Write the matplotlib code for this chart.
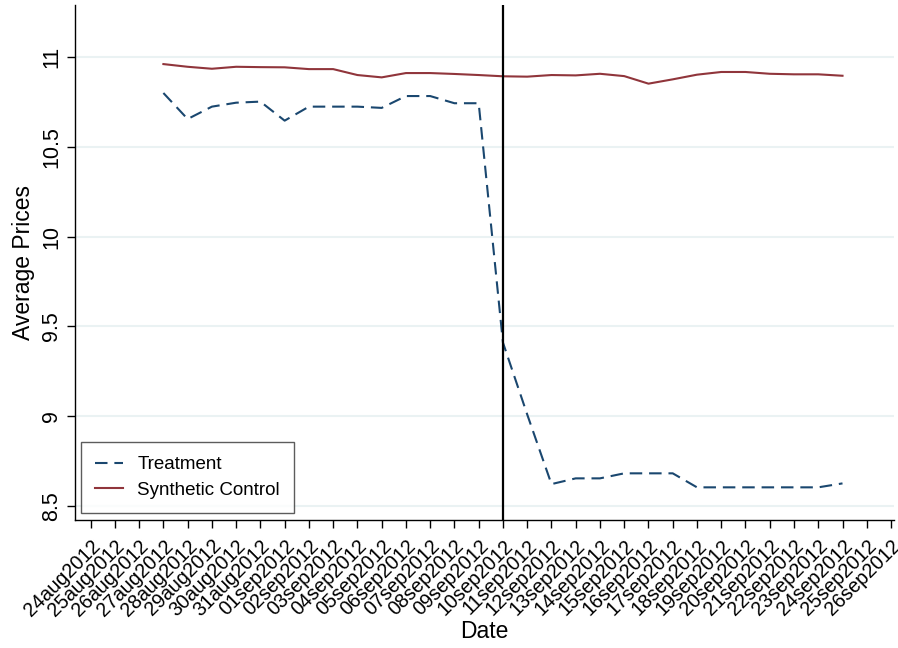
import numpy as np
import pandas as pd
import matplotlib
matplotlib.use("Agg")
import matplotlib.pyplot as plt

plt.rcParams['font.family'] = ['Liberation Sans', 'DejaVu Sans']

# tick dates on the x axis
tick_dates = pd.date_range("2012-08-24", "2012-09-26", freq="D")
# observed days (27aug - 24sep)
obs_dates = pd.date_range("2012-08-27", "2012-09-24", freq="D")

treatment = [10.80, 10.655, 10.724, 10.746, 10.752, 10.646, 10.724, 10.724, 10.724,
             10.717, 10.783, 10.783, 10.743, 10.743, 9.41, 9.01, 8.622, 8.654,
             8.654, 8.682, 8.682, 8.682, 8.604, 8.604, 8.604, 8.604, 8.604, 8.604, 8.626]
synthetic = [10.961, 10.946, 10.935, 10.946, 10.944, 10.943, 10.933, 10.933, 10.90,
             10.887, 10.911, 10.911, 10.906, 10.90, 10.893, 10.891, 10.90, 10.898,
             10.907, 10.894, 10.852, 10.876, 10.902, 10.917, 10.917, 10.907, 10.904,
             10.904, 10.896]
event_date = pd.Timestamp("2012-09-10")
y_ticks = [8.5, 9, 9.5, 10, 10.5, 11]

navy = "#1a476f"
maroon = "#90353b"

fig = plt.figure(figsize=(8.98, 6.48), dpi=100)
ax = fig.add_axes([0.0835, 0.1975, 0.9125, 0.7945])

ax.plot(obs_dates, treatment, color=navy, lw=1.5, ls=(0, (6, 3.3)), label="Treatment")
ax.plot(obs_dates, synthetic, color=maroon, lw=1.5, label="Synthetic Control")
ax.axvline(event_date, color="black", lw=1.6)

ax.set_xlim(tick_dates[0] - pd.Timedelta(days=0.645), tick_dates[-1] + pd.Timedelta(days=0.14))
ax.set_ylim(8.422, 11.289)

ax.set_xticks(tick_dates)
ax.set_xticklabels([d.strftime("%d%b%Y").lower() for d in tick_dates],
                   rotation=45, ha="right", va="top", rotation_mode="anchor", fontsize=14.2)
ax.set_yticks(y_ticks)
ax.set_yticklabels([f"{v:g}" for v in y_ticks], rotation=90, va="center", fontsize=15.5)
ax.tick_params(direction="out", length=5.5, width=1, colors="black")
ax.tick_params(axis="x", pad=6)

ax.grid(axis="y", color="#eaf2f3", lw=1.5)
ax.set_axisbelow(True)
for s in ["top", "right"]:
    ax.spines[s].set_visible(False)
for s in ["left", "bottom"]:
    ax.spines[s].set_linewidth(1)

ax.set_xlabel("Date", fontsize=16.5, labelpad=0)
ax.set_ylabel("Average Prices", fontsize=16.5, labelpad=5)

leg = ax.legend(loc="lower left", bbox_to_anchor=(0.0073, 0.0136), fontsize=13.5,
                frameon=True, fancybox=False, edgecolor="#333333", handlelength=1.5,
                handletextpad=0.75, borderpad=0.75, labelspacing=0.45, borderaxespad=0)
leg.get_frame().set_linewidth(1)

fig.savefig("out.png", dpi=100)
